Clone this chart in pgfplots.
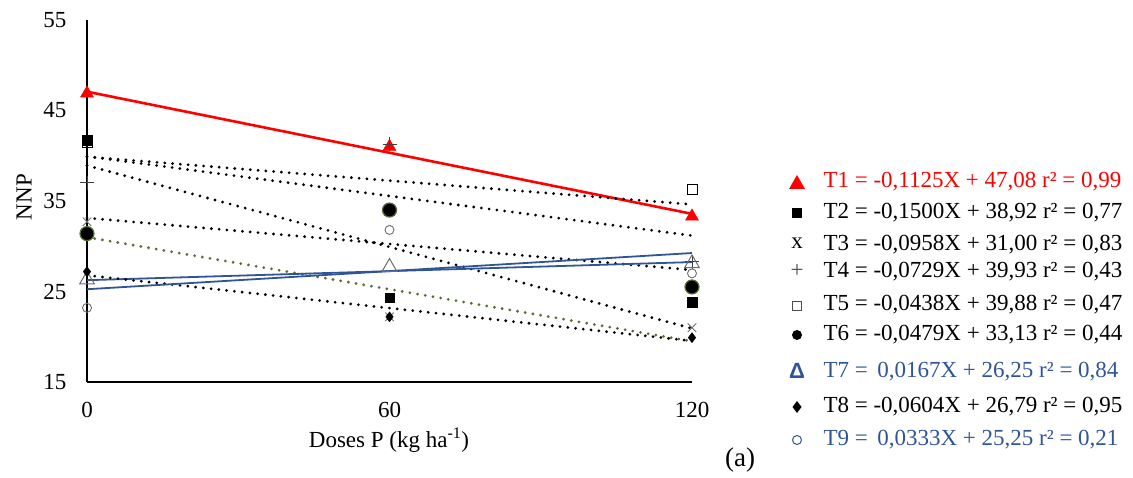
\documentclass[border=0pt]{standalone}
\usepackage{fontspec}
\setmainfont{Liberation Serif}
\newfontfamily\sansfont{Liberation Sans}
\usepackage{pgfplots}
\pgfplotsset{compat=1.18}

\definecolor{tred}{RGB}{255,0,0}
\definecolor{tblue}{RGB}{47,85,151}
\definecolor{tgreen}{RGB}{84,110,48}
\definecolor{tgray}{RGB}{110,110,110}

\tikzset{
  regdot/.style={line width=3.1pt, line cap=round, dash pattern=on 0pt off 7.8pt},
}

\begin{document}
\begin{tikzpicture}[x=1pt,y=1pt]
\path[use as bounding box] (0,0) rectangle (1133,477);
\begin{axis}[
  at={(87pt,95pt)}, anchor=south west,
  scale only axis, width=605pt, height=362pt,
  xmin=0, xmax=120, ymin=15, ymax=55,
  xtick={0,60,120}, ytick={15,25,35,45,55},
  axis lines=left, axis line style={-, line width=1.3pt},
  major tick length=0pt,
  font=\fontsize{23}{27}\selectfont,
  /pgf/number format/assume math mode=true,
  yticklabel style={xshift=-17pt},
  xticklabel style={yshift=-17pt},
  clip=false,
]
% fitted regressions
\addplot[tred, line width=2.6pt] coordinates {(0,47.08) (120,33.58)};
\addplot[black, regdot] coordinates {(0,38.92) (120,20.92)};
\addplot[tgreen, regdot] coordinates {(0,31.00) (120,19.50)};
\addplot[black, regdot] coordinates {(0,39.93) (120,31.18)};
\addplot[black, regdot] coordinates {(0,39.88) (120,34.62)};
\addplot[black, regdot] coordinates {(0,33.13) (120,27.38)};
\addplot[tblue, line width=1.8pt] coordinates {(0,26.25) (120,28.25)};
\addplot[black, regdot] coordinates {(0,26.79) (120,19.54)};
\addplot[tblue, line width=1.8pt] coordinates {(0,25.25) (120,29.25)};
% observed means
\addplot[only marks, mark=triangle*, mark size=7.5pt, mark options={fill=tred, draw=tred}]
  coordinates {(0,46.9) (60,41.0) (120,33.3)};
\addplot[only marks, mark=square*, mark size=4.8pt, mark options={fill=black, draw=black}]
  coordinates {(0,41.7) (60,24.3) (120,23.8)};
\addplot[only marks, mark=x, mark size=6pt, mark options={draw=tgray, line width=0.9pt}]
  coordinates {(0,32.7) (60,22.2) (120,21.0)};
\addplot[only marks, mark=+, mark size=7pt, mark options={draw=black!75, line width=0.9pt}]
  coordinates {(0,37.0) (60,41.3) (120,28.3)};
\addplot[only marks, mark=square, mark size=5pt, mark options={draw=black, line width=0.9pt}]
  coordinates {(0,41.5) (60,34.0) (120,36.3)};
\addplot[only marks, mark=*, mark size=7pt, mark options={fill=black, draw=tgreen, line width=1.2pt}]
  coordinates {(0,31.4) (60,34.0) (120,25.5)};
\addplot[only marks, mark=triangle, mark size=8.5pt, mark options={draw=tgray, line width=1pt}]
  coordinates {(0,26.3) (60,27.7) (120,28.1)};
\addplot[only marks, mark=diamond*, mark size=5pt, mark options={fill=black, draw=black}]
  coordinates {(0,27.2) (60,22.2) (120,19.9)};
\addplot[only marks, mark=o, mark size=4.5pt, mark options={draw=tgray, line width=0.9pt}]
  coordinates {(0,23.2) (60,31.8) (120,27.0)};
\end{axis}

% axis titles
\node[rotate=90, font=\fontsize{23}{27}\selectfont] at (24,280) {NNP};
\node[font=\fontsize{23}{27}\selectfont] at (389,37) {Doses P (kg ha\textsuperscript{-1})};
\node[font=\fontsize{27}{32}\selectfont] at (740,17) {(a)};

% equations key
\begin{scope}[font=\fontsize{23}{27}\selectfont]
  \fill[tred] (789,288) -- (805,288) -- (797,302) -- cycle;
  \node[anchor=west, text=tred] at (820,295) {T1 = -0,1125X + 47,08 r² = 0,99};
  \fill[black] (792,259) rectangle (802,269);
  \node[anchor=west] at (820,264) {T2 = -0,1500X + 38,92 r² = 0,77};
  \node at (797,234) {x};
  \node[anchor=west] at (820,232) {T3 = -0,0958X + 31,00 r² = 0,83};
  \node[text=black!70] at (797,206) {+};
  \node[anchor=west] at (820,205) {T4 = -0,0729X + 39,93 r² = 0,43};
  \draw[black!70, line width=0.8pt] (792.5,166.5) rectangle (801.5,175.5);
  \node[anchor=west] at (820,172) {T5 = -0,0438X + 39,88 r² = 0,47};
  \fill[black] (797,142) circle (5pt);
  \node[anchor=west] at (820,142) {T6 = -0,0479X + 33,13 r² = 0,44};
  \node[text=tblue, font=\fontsize{22}{26}\sansfont\bfseries] at (797,106) {Δ};
  \node[anchor=west, text=tblue] at (820,105) {T7 =\, 0,0167X + 26,25 r² = 0,84};
  \fill[black] (797,64) -- (801.5,70) -- (797,76) -- (792.5,70) -- cycle;
  \node[anchor=west] at (820,70) {T8 = -0,0604X + 26,79 r² = 0,95};
  \draw[tblue, line width=1pt] (797,37) circle (4.5pt);
  \node[anchor=west, text=tblue] at (820,37) {T9 =\, 0,0333X + 25,25 r² = 0,21};
\end{scope}
\end{tikzpicture}
\end{document}
